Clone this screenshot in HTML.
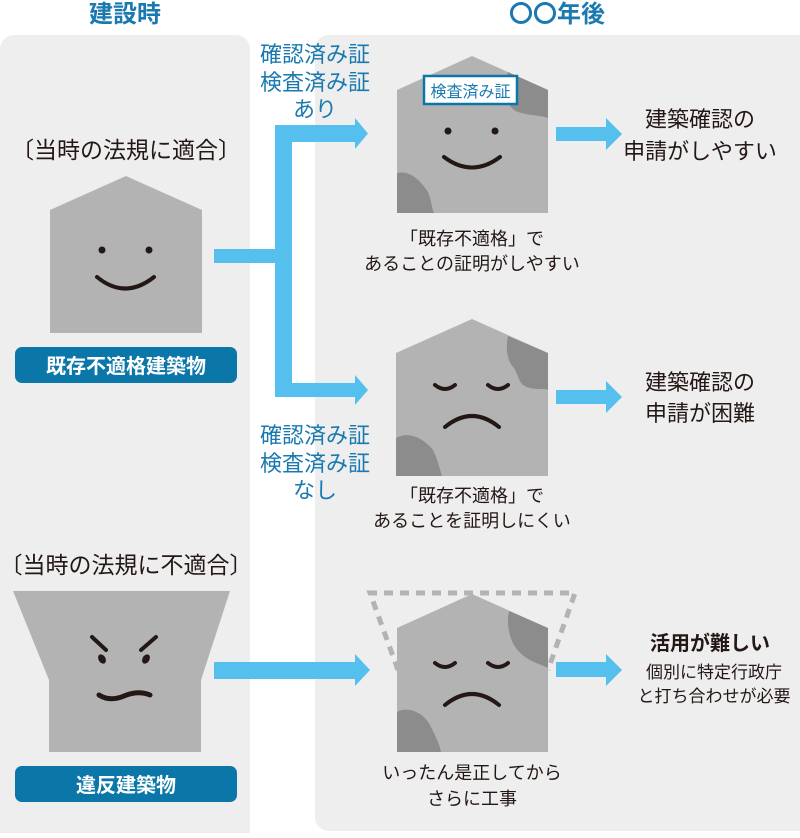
<!DOCTYPE html>
<html><head><meta charset="utf-8"><style>
html,body{margin:0;padding:0;background:#fff;}
svg text{font-family:"Liberation Sans","Noto Sans CJK JP",sans-serif;}
</style></head><body>
<svg width="800" height="833" viewBox="0 0 800 833" xmlns="http://www.w3.org/2000/svg">
<!-- panels -->
<rect x="0" y="35" width="250" height="820" rx="14" fill="#eeeeee"/>
<rect x="315" y="35" width="500" height="796" rx="14" fill="#eeeeee"/>
<!-- headers -->
<text x="125" y="22" font-size="24" font-weight="bold" fill="#1a7ab0" text-anchor="middle">建設時</text>
<text x="557" y="22" font-size="24" font-weight="bold" fill="#1a7ab0" text-anchor="middle">〇〇年後</text>

<!-- left top -->
<text x="126" y="158" font-size="23" fill="#231815" text-anchor="middle">〔当時の法規に適合〕</text>
<polygon points="50,210 126,176 202,210 202,333 50,333" fill="#b3b3b3"/>
<circle cx="102" cy="250" r="3.5" fill="#231815"/>
<circle cx="149" cy="250" r="3.5" fill="#231815"/>
<path d="M97,277 Q125,300 154,277" stroke="#231815" stroke-width="4" fill="none" stroke-linecap="round"/>
<rect x="15" y="347" width="222" height="36" rx="7" fill="#0a77a8"/>
<text x="126" y="373" font-size="20" font-weight="bold" fill="#fff" text-anchor="middle">既存不適格建築物</text>

<!-- branch arrows -->
<g fill="#55c0ee">
<rect x="214" y="249" width="78" height="14"/>
<rect x="275" y="125" width="17" height="272"/>
<rect x="275" y="125" width="82" height="17"/>
<polygon points="355,118 368,133.5 355,149"/>
<rect x="275" y="383" width="82" height="14"/>
<polygon points="355,375 368,390 355,405"/>
<rect x="556" y="127" width="52" height="14"/>
<polygon points="606,118 622,134 606,150"/>
<rect x="556" y="390" width="52" height="14"/>
<polygon points="606,381 622,397 606,413"/>
<rect x="214" y="662" width="144" height="17"/>
<polygon points="355,654 370,670 355,686"/>
<rect x="556" y="662" width="52" height="15"/>
<polygon points="606,654 622,670 606,686"/>
</g>
<g font-size="22" fill="#1a7ab0" text-anchor="middle">
<text x="315" y="62">確認済み証</text>
<text x="315" y="90">検査済み証</text>
<text x="315" y="117">あり</text>
<text x="315" y="443">確認済み証</text>
<text x="315" y="471">検査済み証</text>
<text x="315" y="498">なし</text>
</g>

<!-- house 1 -->
<polygon points="397,90 472,56 548,90 548,213 397,213" fill="#b3b3b3"/>
<path d="M548,90 L508,72 C505,88 505,108 518,112 C530,116 540,115 548,118 Z" fill="#8c8c8c"/>
<path d="M397,173 C410,170 420,180 428,192 C432,202 432,210 434,213 L397,213 Z" fill="#8c8c8c"/>
<rect x="424" y="76" width="93" height="28" fill="#fff" stroke="#0a77a8" stroke-width="2.5"/>
<text x="470.5" y="97" font-size="16" fill="#1a7ab0" text-anchor="middle">検査済み証</text>
<circle cx="448" cy="131" r="3.5" fill="#231815"/>
<circle cx="495" cy="131" r="3.5" fill="#231815"/>
<path d="M444,157 Q472,178 500,157" stroke="#231815" stroke-width="4" fill="none" stroke-linecap="round"/>
<g font-size="18" fill="#231815" text-anchor="middle">
<text x="472" y="245">「既存不適格」で</text>
<text x="472" y="270">あることの証明がしやすい</text>
</g>
<g font-size="22" fill="#231815" text-anchor="middle">
<text x="700" y="127">建築確認の</text>
<text x="700" y="159">申請がしやすい</text>
<text x="700" y="390">建築確認の</text>
<text x="700" y="421">申請が困難</text>
</g>

<!-- house 2 -->
<polygon points="396,353 472,319 548,353 548,476 396,476" fill="#b3b3b3"/>
<path d="M548,353 L508,336 C505,350 508,362 514,368 C520,378 518,385 530,388 C540,390 545,388 548,390 Z" fill="#8c8c8c"/>
<path d="M396,438 C410,430 425,440 433,450 C438,460 440,470 442,476 L396,476 Z" fill="#8c8c8c"/>
<path d="M435,385 Q445,393 455,385" stroke="#231815" stroke-width="4" fill="none" stroke-linecap="round"/>
<path d="M488,385 Q498,393 508,385" stroke="#231815" stroke-width="4" fill="none" stroke-linecap="round"/>
<path d="M445,427 Q472,405 499,427" stroke="#231815" stroke-width="4" fill="none" stroke-linecap="round"/>
<g font-size="18" fill="#231815" text-anchor="middle">
<text x="472" y="502">「既存不適格」で</text>
<text x="472" y="527">あることを証明しにくい</text>
</g>

<!-- bottom left -->
<text x="126" y="573" font-size="23" fill="#231815" text-anchor="middle">〔当時の法規に不適合〕</text>
<polygon points="13,591 230,591 201,680 201,752 49,752 49,680" fill="#b3b3b3"/>
<path d="M92,637 L106,650 M156,637 L141,650" stroke="#231815" stroke-width="4" stroke-linecap="round"/>
<ellipse cx="102" cy="659" rx="3.5" ry="5" fill="#231815" transform="rotate(-30 102 659)"/>
<ellipse cx="146" cy="659" rx="3.5" ry="5" fill="#231815" transform="rotate(30 146 659)"/>
<path d="M99,695 Q110,702 124,696 Q138,690 150,695" stroke="#231815" stroke-width="5" fill="none" stroke-linecap="round"/>
<rect x="15" y="766" width="222" height="36" rx="7" fill="#0a77a8"/>
<text x="126" y="792" font-size="20" font-weight="bold" fill="#fff" text-anchor="middle">違反建築物</text>

<!-- house 3 -->
<polygon points="397,628 472,594 548,628 548,752 397,752" fill="#b3b3b3"/>
<path d="M548,628 L509,611 C506,625 510,640 516,648 C525,660 535,662 548,668 Z" fill="#8c8c8c"/>
<path d="M397,712 C410,705 425,715 430,725 C435,735 440,745 441,752 L397,752 Z" fill="#8c8c8c"/>
<polyline points="398,670 370,593 575,593 548,670" fill="none" stroke="#b3b3b3" stroke-width="5" stroke-dasharray="9,7"/>
<path d="M435,663 Q445,671 455,663" stroke="#231815" stroke-width="4" fill="none" stroke-linecap="round"/>
<path d="M488,663 Q498,671 508,663" stroke="#231815" stroke-width="4" fill="none" stroke-linecap="round"/>
<path d="M445,705 Q472,683 499,705" stroke="#231815" stroke-width="4" fill="none" stroke-linecap="round"/>
<g font-size="18" fill="#231815" text-anchor="middle">
<text x="472" y="779">いったん是正してから</text>
<text x="472" y="805">さらに工事</text>
</g>
<text x="710" y="650" font-size="20" font-weight="bold" fill="#231815" text-anchor="middle">活用が難しい</text>
<g font-size="17" fill="#231815" text-anchor="middle">
<text x="714" y="678">個別に特定行政庁</text>
<text x="714" y="702">と打ち合わせが必要</text>
</g>
</svg>
</body></html>
